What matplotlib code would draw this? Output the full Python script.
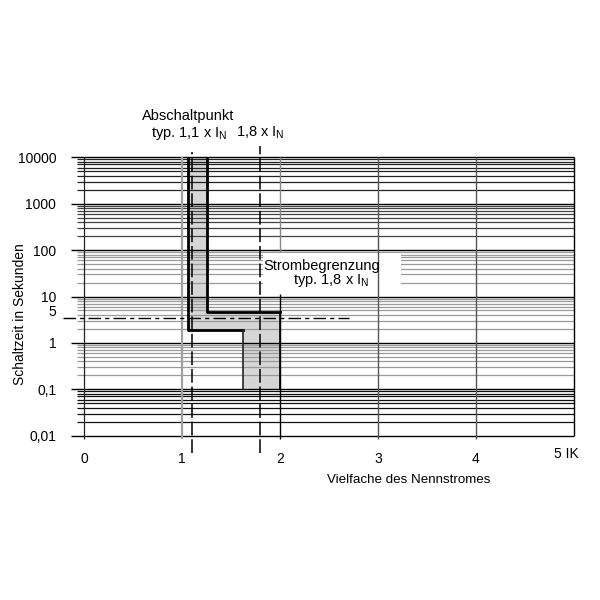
import matplotlib
matplotlib.use('Agg')
import matplotlib.pyplot as plt
import numpy as np

plt.rcParams['font.family'] = ['Liberation Sans', 'DejaVu Sans']
plt.rcParams['mathtext.default'] = 'regular'

# Achsen / Beschriftung
y_ticks = [0.01, 0.1, 1, 5, 10, 100, 1000, 10000]
y_labels = ['0,01', '0,1', '1', '5', '10', '100', '1000', '10000']
x_ticks = [0, 1, 2, 3, 4]
x_labels = ['0', '1', '2', '3', '4']

# Kennlinienband (Vielfache I_N, Sekunden)
left_x = [1.06, 1.06, 1.62]
left_y = [10000, 1.87, 1.87]
left_tail_x = [1.62, 1.62]
left_tail_y = [1.87, 0.1]
right_x = [1.26, 1.26, 2.0]
right_y = [10000, 4.66, 4.66]
right_tail_x = [2.0, 2.0]
right_tail_y = [4.66, 0.1]
band_x = [1.06, 1.06, 1.62, 1.62, 2.0, 2.0, 1.26, 1.26]
band_y = [10000, 1.87, 1.87, 0.1, 0.1, 4.66, 4.66, 10000]

abschalt = 1.1
begrenz = 1.8
ref_line = 3.45   # strichpunktierte Linie bei "5"

# Farben der Rasterlinien je Dekade (Scan-Optik)
decade_colors = {0.01: '#111111', 0.1: '#9a9a9a', 1: '#9a9a9a',
                 10: '#9a9a9a', 100: '#444444', 1000: '#222222'}

fig = plt.figure(figsize=(6, 6), dpi=100)
ax = fig.add_axes([84 / 600, 1 - 435.7 / 600, 490 / 600, (435.7 - 157.3) / 600])
ax.set_yscale('log')
ax.set_xlim(0, 5)
ax.set_ylim(0.01, 10000)
for s in ax.spines.values():
    s.set_visible(False)

# horizontale Rasterlinien
for dec, col in decade_colors.items():
    for m in range(2, 10):
        ax.hlines(dec * m, -0.07, 5, color=col, lw=0.9, zorder=2, clip_on=False)
for dec in [0.01, 0.1, 1, 10, 100, 1000, 10000]:
    ax.hlines(dec, -0.13, 5, color='black', lw=1.0, zorder=2, clip_on=False)

# vertikale Rasterlinien
ax.vlines(0, 0.0085, 10000, color='#222222', lw=0.9, zorder=3, clip_on=False)
ax.vlines(1, 0.0085, 10000, color='#a0a0a0', lw=1.6, zorder=3, clip_on=False)
ax.vlines(2, 0.0085, 11.5, color='black', lw=1.0, zorder=5, clip_on=False)
ax.vlines(2, 88, 10000, color='#888888', lw=1.0, zorder=3, clip_on=False)
ax.vlines([3, 4], 0.0085, 10000, color='#555555', lw=1.0, zorder=5, clip_on=False)
ax.vlines(5, 0.01, 10000, color='black', lw=1.0, zorder=5, clip_on=False)

# graues Band
ax.fill(band_x, band_y, color='#d6d6d6', zorder=1, lw=0)

# weisses Textfeld
ax.fill([1.83, 3.23, 3.23, 1.83], [11.5, 11.5, 88, 88], color='white', zorder=4, lw=0)

# Kennlinien
ax.plot(left_x, left_y, color='black', lw=2.0, solid_joinstyle='round', zorder=6)
ax.plot(left_tail_x, left_tail_y, color='#222222', lw=1.2, zorder=6)
ax.plot(right_x, right_y, color='black', lw=2.0, zorder=6)
ax.plot(right_tail_x, right_tail_y, color='black', lw=1.2, zorder=6)

# gestrichelte Linien 1,1 und 1,8 x I_N
ax.vlines(abschalt, 0.0043, 12800, color='black', lw=1.1, linestyles=(0, (9, 2.5)),
          zorder=7, clip_on=False)
ax.vlines(begrenz, 0.0043, 17800, color='black', lw=1.1, linestyles=(0, (9, 2.5)),
          zorder=7, clip_on=False)

# strichpunktierte Linie
ax.hlines(ref_line, -0.21, 2.7, color='black', lw=1.0, linestyles=(0, (9, 3, 3, 3)),
          zorder=7, clip_on=False)

ax.set_yticks(y_ticks)
ax.set_yticklabels(y_labels)
ax.set_yticks([], minor=True)
ax.tick_params(axis='y', length=0, pad=20, labelsize=10)
ax.set_xticks(x_ticks)
ax.set_xticklabels(x_labels)
ax.tick_params(axis='x', length=0, pad=12, labelsize=10)
ax.text(4.92, -0.066, '5 IK', transform=ax.get_xaxis_transform(), ha='center',
        va='center', fontsize=10)

# Texte
fig.text(188 / 600, 1 - 116 / 600, 'Abschaltpunkt', ha='center', va='center', fontsize=10.5)
fig.text(189 / 600, 1 - 133 / 600, 'typ. 1,1 x I$_N$', ha='center', va='center', fontsize=10.5)
fig.text(260 / 600, 1 - 133 / 600, '1,8 x I$_N$', ha='center', va='center', fontsize=10.5)
ax.text(2.43, 46, 'Strombegrenzung', ha='center', va='center', fontsize=10.5, zorder=8)
ax.text(2.52, 22, 'typ. 1,8 x I$_N$', ha='center', va='center', fontsize=10.5, zorder=8)

fig.text(20 / 600, 1 - 314 / 600, 'Schaltzeit in Sekunden', rotation=90,
         ha='center', va='center', fontsize=10)
fig.text(409 / 600, 1 - 480 / 600, 'Vielfache des Nennstromes', ha='center',
         va='center', fontsize=9.6)

fig.savefig('out.png', dpi=100, facecolor='white')
